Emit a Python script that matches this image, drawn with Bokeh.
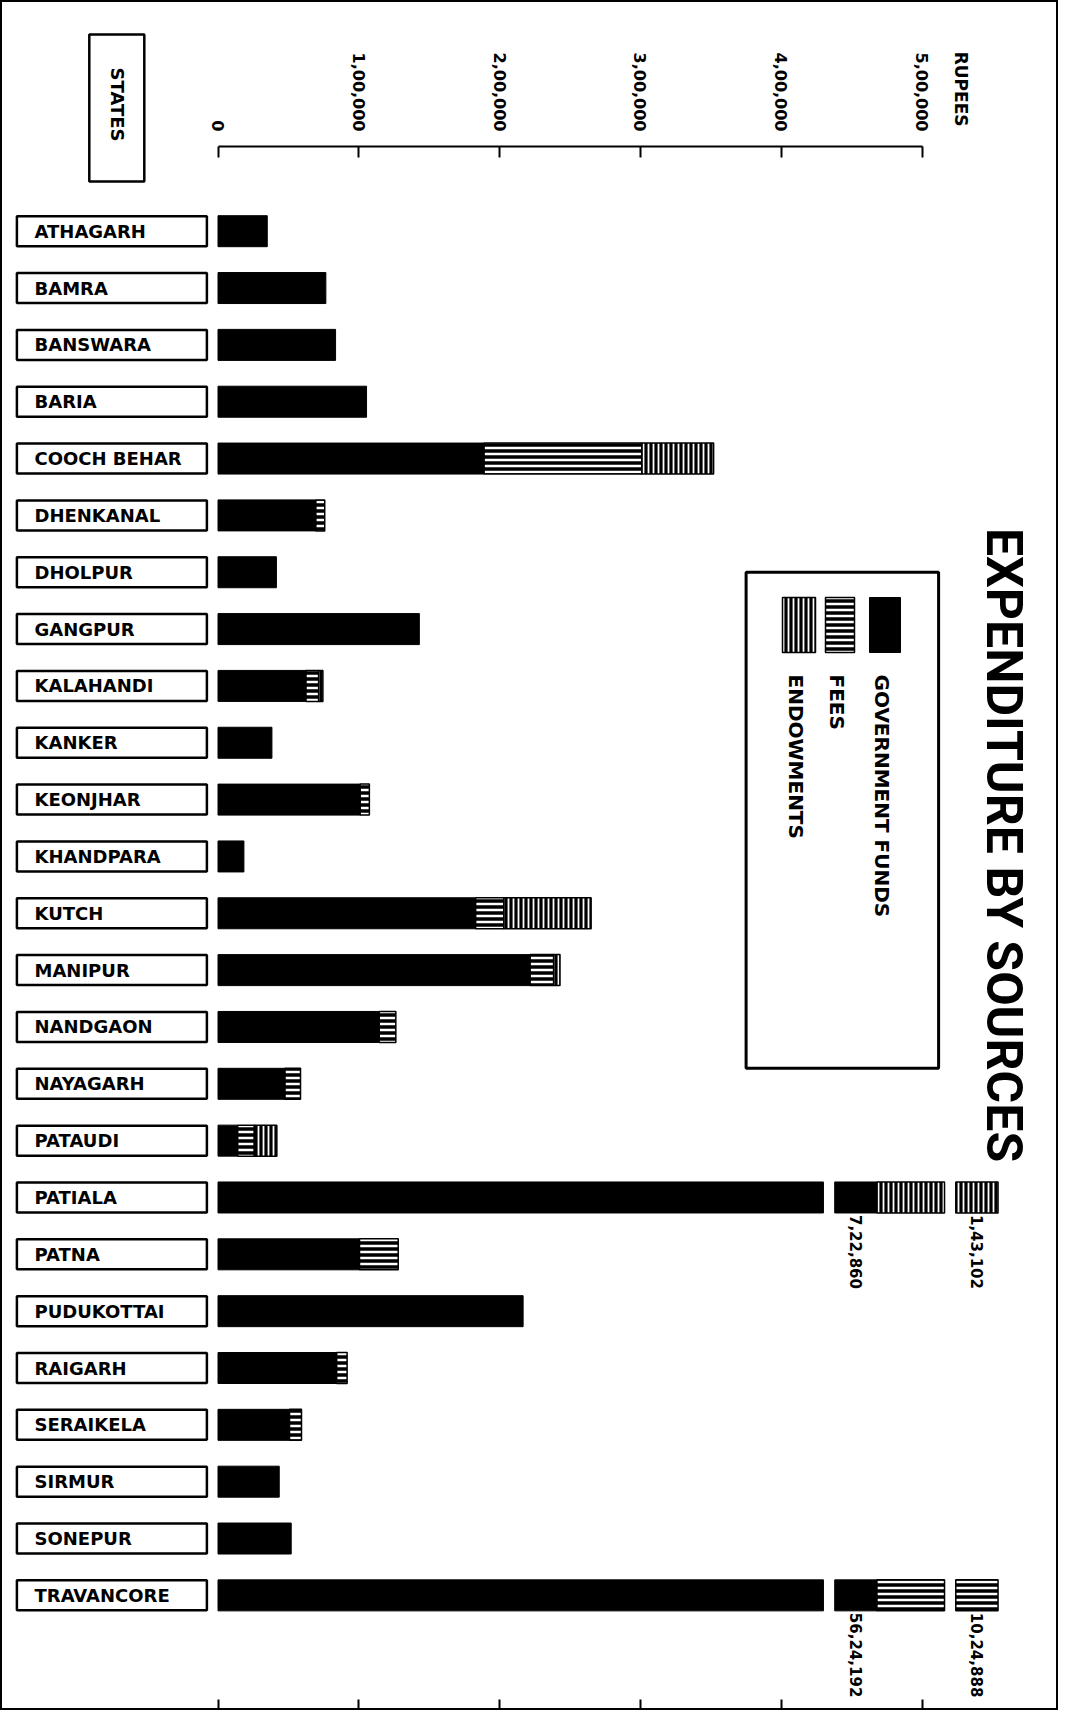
import math
from bokeh.plotting import figure
from bokeh.models import Range1d, LinearAxis, FixedTicker, ColumnDataSource
from bokeh.core.properties import value
from bokeh.embed import file_html
from bokeh.resources import INLINE

# ---------------- data (rupees) ----------------
states = ["ATHAGARH", "BAMRA", "BANSWARA", "BARIA", "COOCH BEHAR", "DHENKANAL",
          "DHOLPUR", "GANGPUR", "KALAHANDI", "KANKER", "KEONJHAR", "KHANDPARA",
          "KUTCH", "MANIPUR", "NANDGAON", "NAYAGARH", "PATAUDI", "PATIALA",
          "PATNA", "PUDUKOTTAI", "RAIGARH", "SERAIKELA", "SIRMUR", "SONEPUR",
          "TRAVANCORE"]
government_funds = [35000, 76600, 83500, 105500, 189000, 69500,
                    41500, 143000, 62500, 38300, 101000, 18400,
                    183000, 221700, 114500, 47600, 14000, 722860,
                    100500, 216700, 84300, 50800, 43500, 52000,
                    5624192]
fees = [0, 0, 0, 0, 112000, 6300,
        0, 0, 9000, 0, 6500, 0,
        20000, 16700, 11800, 11000, 11800, 0,
        27500, 0, 7400, 8500, 0, 0,
        1024888]
endowments = [0, 0, 0, 0, 51000, 0,
              0, 0, 3000, 0, 0, 0,
              62000, 4500, 0, 0, 16000, 143102,
              0, 0, 0, 0, 0, 0,
              0]
tick_values = [0, 100000, 200000, 300000, 400000, 500000]
tick_labels = ["0", "1,00,000", "2,00,000", "3,00,000", "4,00,000", "5,00,000"]
series_names = ["GOVERNMENT FUNDS", "FEES", "ENDOWMENTS"]
title_text = "EXPENDITURE BY SOURCES"
axis_unit = "RUPEES"
states_header = "STATES"

# ---------------- layout (pixels) ----------------
W, H = 1058, 1710
PX_PER_RUPEE = 140.8 / 100000.0
ZERO_PX = 217.5
ROW_PX = 56.84
FIRST_ROW_PX = 230.7
X0 = -ZERO_PX / PX_PER_RUPEE
X1 = X0 + W / PX_PER_RUPEE
Y_TOP = -FIRST_ROW_PX / ROW_PX
Y_BOTTOM = Y_TOP + H / ROW_PX


def fx(px):
    return X0 + px / PX_PER_RUPEE


def fy(py):
    return Y_TOP + py / ROW_PX


def dx(px):
    return px / PX_PER_RUPEE


def dy(py):
    return py / ROW_PX


BAR_H = dy(31)
# broken-bar drawing convention for values that overrun the scale
BREAK_CAP = 430000
FIRST_PIECE = 48000
BREAK_GAP = 8000
TAIL = 30000

FONT_NAME = "DejaVu Sans"
FONT = value(FONT_NAME)


def indian(n):
    s = str(int(round(n)))
    if len(s) <= 3:
        return s
    head, tail = s[:-3], s[-3:]
    groups = []
    while len(head) > 2:
        groups.insert(0, head[-2:])
        head = head[:-2]
    if head:
        groups.insert(0, head)
    return ",".join(groups + [tail])


# build drawn pieces
pieces = {0: dict(y=[], left=[], right=[]), 1: dict(y=[], left=[], right=[]), 2: dict(y=[], left=[], right=[])}
break_labels = dict(x=[], y=[], text=[])
for i, st in enumerate(states):
    start = 0.0
    for k, v in enumerate([government_funds[i], fees[i], endowments[i]]):
        if v <= 0:
            continue
        if start + v <= BREAK_CAP:
            pieces[k]["y"].append(i)
            pieces[k]["left"].append(start)
            pieces[k]["right"].append(start + v)
            start += v
        else:
            p1_end = BREAK_CAP if start < BREAK_CAP - FIRST_PIECE else start + FIRST_PIECE
            t0 = p1_end + BREAK_GAP
            t1 = t0 + TAIL
            for a, b in [(start, p1_end), (t0, t1)]:
                pieces[k]["y"].append(i)
                pieces[k]["left"].append(a)
                pieces[k]["right"].append(b)
            break_labels["x"].append((t0 + t1) / 2.0)
            break_labels["y"].append(i + BAR_H / 2 + dy(2))
            break_labels["text"].append(indian(v))
            start = t1

p = figure(width=W, height=H, x_range=Range1d(X0, X1), y_range=Range1d(Y_BOTTOM, Y_TOP),
           output_backend="svg", toolbar_location=None,
           x_axis_location=None, y_axis_location=None, min_border=0)
p.xgrid.visible = False
p.ygrid.visible = False
p.outline_line_color = "black"
p.outline_line_width = 3
p.background_fill_color = "white"
p.border_fill_color = "white"

# axes
top_axis = LinearAxis(ticker=FixedTicker(ticks=tick_values), fixed_location=fy(146),
                      bounds=(0, 500000), axis_line_width=2, axis_line_color="black",
                      major_tick_in=11, major_tick_out=0, major_tick_line_width=2,
                      minor_tick_in=0, minor_tick_out=0,
                      major_label_overrides={v: t for v, t in zip(tick_values, tick_labels)},
                      major_label_orientation=-math.pi / 2, major_label_standoff=15,
                      major_label_text_font=FONT_NAME, major_label_text_font_style="bold",
                      major_label_text_font_size="16px", major_label_text_color="black")
p.add_layout(top_axis, "above")
bottom_axis = LinearAxis(ticker=FixedTicker(ticks=tick_values), fixed_location=Y_BOTTOM,
                         bounds=(0, 500000), axis_line_color=None,
                         major_tick_in=11, major_tick_out=0, major_tick_line_width=2,
                         minor_tick_in=0, minor_tick_out=0,
                         major_label_overrides={v: "" for v in tick_values},
                         major_label_text_font_size="0px")
p.add_layout(bottom_axis, "below")

# header texts
p.rect(x=[fx(116.3)], y=[fy(107.5)], width=dx(55), height=dy(147), fill_color="white",
       line_color="black", line_width=2.5)
p.text(x=[fx(117)], y=[fy(104)], text=[states_header], angle=-math.pi / 2,
       text_align="center", text_baseline="middle", text_font=FONT, text_font_style="bold",
       text_font_size="18px", text_color="black")
p.text(x=[fx(960)], y=[fy(126)], text=[axis_unit], angle=-math.pi / 2,
       text_align="right", text_baseline="middle", text_font=FONT, text_font_style="bold",
       text_font_size="17px", text_color="black")

# state boxes
idx = list(range(len(states)))
p.rect(x=[fx(111.4)] * len(states), y=idx, width=dx(190), height=dy(30),
       fill_color="white", line_color="black", line_width=2.5)
p.text(x=[fx(34)] * len(states), y=idx, text=states, text_align="left", text_baseline="middle",
       text_font=FONT, text_font_style="bold", text_font_size="18px", text_color="black")

# bars
p.hbar(source=ColumnDataSource(pieces[0]), y="y", left="left", right="right", height=BAR_H,
       fill_color="black", line_color="black", line_width=1)
p.hbar(source=ColumnDataSource(pieces[1]), y="y", left="left", right="right", height=BAR_H,
       fill_color="black", line_color="black", line_width=1.5,
       hatch_pattern="horizontal_line", hatch_color="white", hatch_weight=2.5, hatch_scale=6)
p.hbar(source=ColumnDataSource(pieces[2]), y="y", left="left", right="right", height=BAR_H,
       fill_color="black", line_color="black", line_width=1.5,
       hatch_pattern="vertical_line", hatch_color="white", hatch_weight=1.8, hatch_scale=5)
p.text(source=ColumnDataSource(break_labels), x="x", y="y", text="text", angle=-math.pi / 2,
       text_align="left", text_baseline="middle", text_font=FONT, text_font_style="bold",
       text_font_size="15px", text_color="black")

# legend
p.rect(x=[fx(841.85)], y=[fy(819.85)], width=dx(192.5), height=dy(496), fill_color="white",
       line_color="black", line_width=3)
sw_y = fy(624.5)
sw_h = dy(55)
p.rect(x=[fx(884.5)], y=[sw_y], width=dx(31), height=sw_h, fill_color="black", line_color="black")
p.rect(x=[fx(839.5)], y=[sw_y], width=dx(29), height=sw_h, fill_color="black", line_color="black",
       line_width=1.5, hatch_pattern="horizontal_line", hatch_color="white", hatch_weight=2.5,
       hatch_scale=6)
p.rect(x=[fx(798.5)], y=[sw_y], width=dx(33), height=sw_h, fill_color="black", line_color="black",
       line_width=1.5, hatch_pattern="vertical_line", hatch_color="white", hatch_weight=1.8,
       hatch_scale=5)
p.text(x=[fx(881), fx(836), fx(795)], y=[fy(674)] * 3, text=series_names, angle=-math.pi / 2,
       text_align="left", text_baseline="middle", text_font=FONT, text_font_style="bold",
       text_font_size="20px", text_color="black")

# title
p.text(x=[fx(1003)], y=[fy(844.6)], text=[title_text], angle=-math.pi / 2,
       text_align="center", text_baseline="middle", text_font=value("Roboto"),
       text_font_style="bold", text_font_size="50px", text_color="black")

open("out.html", "w").write(file_html(p, INLINE))
